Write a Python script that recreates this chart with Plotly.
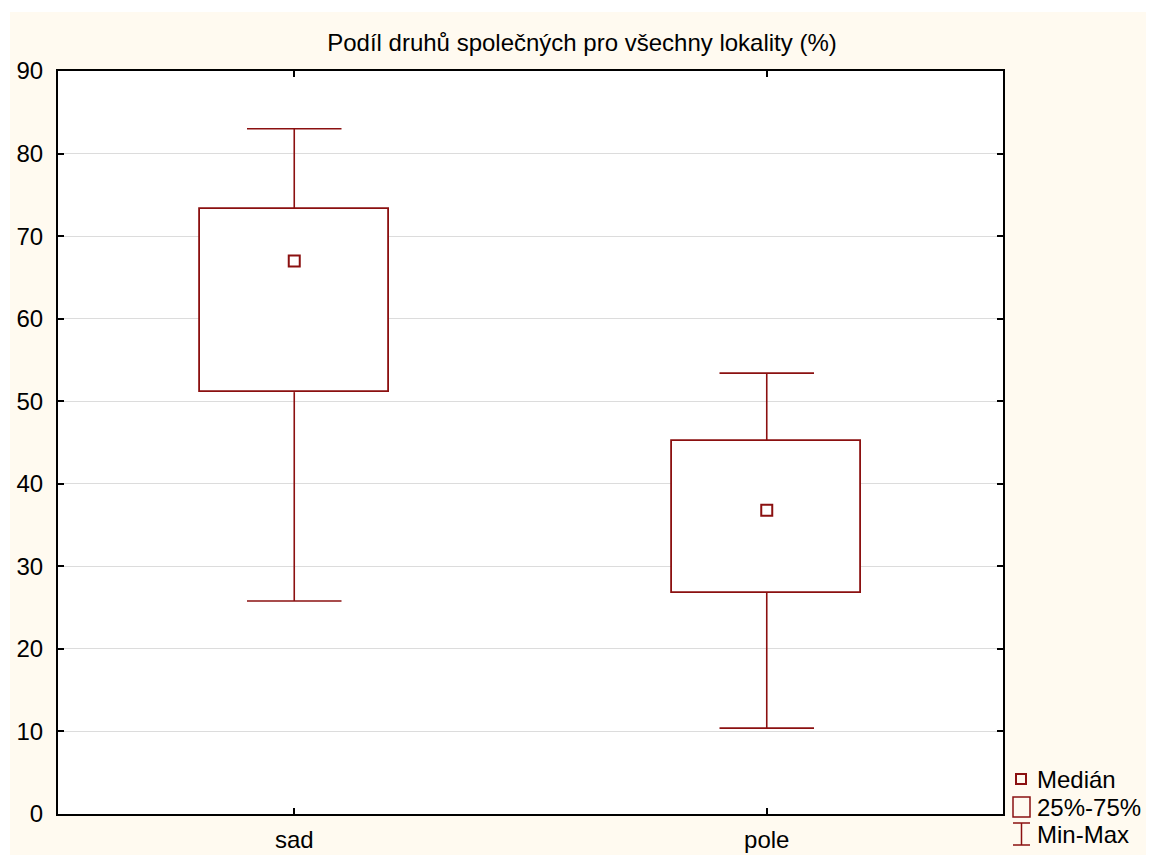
import plotly.graph_objects as go

# ---- data ----
categories = ["sad", "pole"]
minimum = [25.8, 10.4]
q1 = [51.1, 26.8]
median = [67.0, 36.8]
q3 = [73.3, 45.2]
maximum = [83.0, 53.4]

title_text = "Podíl druhů společných pro všechny lokality (%)"
legend_labels = ["Medián", "25%-75%", "Min-Max"]
y_ticks = [0, 10, 20, 30, 40, 50, 60, 70, 80, 90]

# ---- styling ----
OFF = 8                       # default page body margin
W, H = 1154 - OFF, 855 - OFF  # figure size so it fits the window exactly
# plot-area edges in window pixels (reference)
L, R, T, B = 58, 1003, 71, 814
RED = "#8B1010"
CREAM = "#FFFAF0"
FONT = "Liberation Sans, Arial, sans-serif"
FS = 24
BOX_W = 0.4
CAP_W = 0.2

def px(x):
    return (x - L) / (R - L)

def py(y):
    return (B - y) / (B - T)

pos = list(range(len(categories)))
fig = go.Figure()

# whiskers (min->q1 and q3->max) and caps
wx, wy, cx, cy = [], [], [], []
for i in pos:
    wx += [i, i, None, i, i, None]
    wy += [minimum[i], q1[i], None, q3[i], maximum[i], None]
    cx += [i - CAP_W / 2, i + CAP_W / 2, None, i - CAP_W / 2, i + CAP_W / 2, None]
    cy += [minimum[i], minimum[i], None, maximum[i], maximum[i], None]
fig.add_trace(go.Scatter(x=wx, y=wy, mode="lines", line=dict(color=RED, width=1.6),
                         showlegend=False, hoverinfo="skip"))
fig.add_trace(go.Scatter(x=cx, y=cy, mode="lines", line=dict(color=RED, width=1.6),
                         showlegend=False, hoverinfo="skip"))

# boxes
fig.add_trace(go.Bar(x=pos, base=q1, y=[q3[i] - q1[i] for i in pos], width=BOX_W,
                     marker=dict(color="white", line=dict(color=RED, width=1.8)),
                     showlegend=False))

# medians
fig.add_trace(go.Scatter(x=pos, y=median, mode="markers",
                         marker=dict(symbol="square-open", size=11, color=RED,
                                     line=dict(width=2, color=RED)),
                         showlegend=False))

shapes = [
    dict(type="rect", xref="paper", yref="paper", x0=px(10), x1=px(1170), y0=py(880), y1=py(12),
         fillcolor=CREAM, line=dict(width=0), layer="below"),
    dict(type="rect", xref="paper", yref="paper", x0=0, x1=1, y0=0, y1=1,
         fillcolor="white", line=dict(width=0), layer="below"),
    # legend keys
    dict(type="rect", xref="paper", yref="paper", x0=px(1016), x1=px(1026), y0=py(784), y1=py(774),
         fillcolor="rgba(0,0,0,0)", line=dict(color=RED, width=2)),
    dict(type="rect", xref="paper", yref="paper", x0=px(1013), x1=px(1030), y0=py(817), y1=py(797),
         fillcolor="rgba(0,0,0,0)", line=dict(color=RED, width=1.5)),
    dict(type="line", xref="paper", yref="paper", x0=px(1013), x1=px(1030), y0=py(823), y1=py(823),
         line=dict(color=RED, width=1.5)),
    dict(type="line", xref="paper", yref="paper", x0=px(1013), x1=px(1030), y0=py(845), y1=py(845),
         line=dict(color=RED, width=1.5)),
    dict(type="line", xref="paper", yref="paper", x0=px(1021.5), x1=px(1021.5), y0=py(845), y1=py(823),
         line=dict(color=RED, width=1.5)),
]

annotations = []
for lab, yy in zip(legend_labels, [779, 807, 834]):
    annotations.append(dict(text=lab, xref="paper", yref="paper", x=px(1035), y=py(yy),
                            xanchor="left", yanchor="middle", showarrow=False,
                            font=dict(family=FONT, size=FS, color="black")))

fig.update_layout(
    width=W, height=H,
    margin=dict(l=L - OFF, r=(1154 - R), t=T - OFF, b=(855 - B), pad=0, autoexpand=False),
    paper_bgcolor="white", plot_bgcolor="white",
    title=dict(text=title_text, x=(582 - OFF) / W, xref="container", xanchor="center",
               y=1 - (43 - OFF) / H, yref="container", yanchor="middle",
               font=dict(family=FONT, size=FS, color="black")),
    font=dict(family=FONT, size=FS, color="black"),
    shapes=shapes, annotations=annotations,
    bargap=0, showlegend=False,
)
fig.update_xaxes(range=[-0.5, len(categories) - 0.5], tickvals=pos, ticktext=categories,
                 showgrid=False, zeroline=False, showline=True, linecolor="black", linewidth=2,
                 mirror="ticks", ticks="inside", ticklen=6, tickwidth=1.5, tickcolor="black",
                 automargin=False,
                 tickfont=dict(family=FONT, size=FS, color="black"), ticklabelstandoff=3)
fig.update_yaxes(range=[0, 90], tickvals=y_ticks, showgrid=True, gridcolor="#DCDCDC", gridwidth=1,
                 zeroline=False, showline=True, linecolor="black", linewidth=2,
                 mirror="ticks", ticks="inside", ticklen=6, tickwidth=1.5, tickcolor="black",
                 automargin=False,
                 tickfont=dict(family=FONT, size=FS, color="black"), ticklabelstandoff=8)

fig.write_html("out.html")
